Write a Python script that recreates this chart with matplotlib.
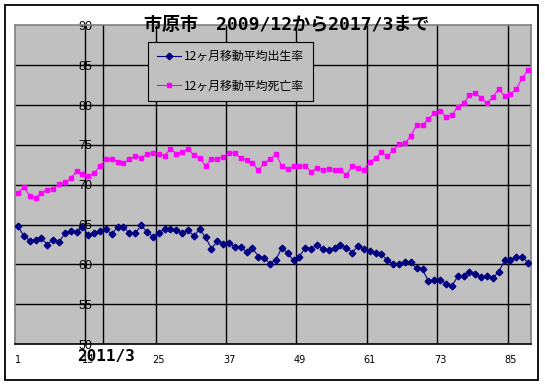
import matplotlib
matplotlib.use('Agg')
import matplotlib.pyplot as plt
from matplotlib.patches import Rectangle
from matplotlib.transforms import blended_transform_factory

# ---------------- data ----------------
title = '市原市\u30002009/12から2017/3まで'
series_names = ['12ヶ月移動平均出生率', '12ヶ月移動平均死亡率']
birth = [64.8, 63.6, 63.0, 63.1, 63.3, 62.5, 63.1, 62.8, 63.9, 64.2,
         64.1, 64.7, 63.7, 63.9, 64.2, 64.4, 63.8, 64.7, 64.7, 63.9,
         63.9, 64.9, 64.1, 63.5, 64.0, 64.4, 64.5, 64.3, 63.9, 64.3,
         63.6, 64.4, 63.4, 62.0, 62.9, 62.6, 62.7, 62.2, 62.2, 61.6,
         62.1, 61.0, 60.8, 60.1, 60.6, 62.1, 61.4, 60.5, 61.0, 62.1,
         62.0, 62.4, 62.0, 61.8, 62.1, 62.5, 62.1, 61.5, 62.3, 62.0,
         61.7, 61.4, 61.3, 60.5, 60.0, 60.1, 60.3, 60.25, 59.5, 59.4,
         57.9, 58.0, 58.1, 57.6, 57.3, 58.5, 58.6, 59.1, 58.8, 58.4,
         58.5, 58.3, 59.1, 60.5, 60.6, 60.9, 61.0, 60.2]
death = [69.0, 69.7, 68.6, 68.4, 69.0, 69.4, 69.5, 70.1, 70.3, 70.8,
         71.7, 71.4, 71.1, 71.5, 72.3, 73.2, 73.2, 72.9, 72.7, 73.2,
         73.6, 73.4, 73.8, 74.0, 73.9, 73.6, 74.5, 73.9, 74.1, 74.5,
         73.7, 73.3, 72.4, 73.2, 73.2, 73.5, 74.0, 74.0, 73.3, 73.1,
         72.7, 71.8, 72.7, 73.2, 73.8, 72.4, 72.0, 72.3, 72.3, 72.4,
         71.6, 72.1, 71.9, 72.0, 71.8, 71.8, 71.2, 72.3, 72.1, 71.9,
         72.9, 73.3, 74.1, 73.6, 74.3, 75.1, 75.2, 76.1, 77.5, 77.5,
         78.2, 79.0, 79.3, 78.5, 78.7, 79.8, 80.2, 81.2, 81.5, 80.9,
         80.2, 81.0, 82.0, 81.1, 81.4, 82.0, 83.4, 84.4]
xtick_labels = ['1', '13', '25', '37', '49', '61', '73', '85']
ytick_values = [50, 55, 60, 65, 70, 75, 80, 85, 90]
mark_category = 16
mark_label = '2011/3'

# ---------------- figure ----------------
W, H = 545, 385
fig = plt.figure(figsize=(W / 100, H / 100), dpi=100)
fig.patch.set_facecolor('white')

L, R, T, B = 15, 531, 25.3, 344.2
ax = fig.add_axes([L / W, (H - B) / H, (R - L) / W, (B - T) / H])
ax.set_facecolor('#C0C0C0')

cats = list(range(1, len(birth) + 1))
ax.set_xlim(0.5, len(cats) + 0.5)
ax.set_ylim(ytick_values[0], ytick_values[-1])

# gridlines
for v in ytick_values[1:-1]:
    ax.axhline(v, color='black', lw=1.0, zorder=1)
xpos = [int(s) for s in xtick_labels]
for c in xpos[2:]:
    ax.axvline(c - 0.5, color='black', lw=1.0, zorder=1)
ax.axvline(mark_category - 0.5, color='black', lw=1.0, zorder=1)
ax.axvline(0.5, color='#808080', lw=1.2, zorder=1, clip_on=False)

# series
ax.plot(cats, birth, color='#000080', lw=0.8, marker='D', ms=3.4,
        mfc='#000080', mec='#000080', label=series_names[0], zorder=3)
ax.plot(cats, death, color='#FF00FF', lw=0.8, marker='s', ms=3.4,
        mfc='#FF00FF', mec='#FF00FF', label=series_names[1], zorder=3)

# spines
ax.spines['left'].set_position(('data', xpos[1] - 0.5))
ax.spines['left'].set_color('black')
ax.spines['left'].set_linewidth(1.0)
for s in ['top', 'right']:
    ax.spines[s].set_color('#808080')
    ax.spines[s].set_linewidth(1.2)
ax.spines['bottom'].set_color('black')
ax.spines['bottom'].set_linewidth(1.2)

# ticks
ax.set_yticks(ytick_values)
ax.set_yticklabels([str(v) for v in ytick_values])
ax.tick_params(axis='y', length=0, pad=0, labelsize=9)
for t in ax.get_yticklabels():
    t.set_horizontalalignment('center')
    t.set_fontfamily('Liberation Sans')
ax.set_xticks(xpos)
ax.set_xticklabels(xtick_labels)
ax.tick_params(axis='x', length=0, pad=8, labelsize=7)

# marker label
trans = blended_transform_factory(ax.transData, ax.transAxes)
ax.text(mark_category, (B - 357) / (B - T), mark_label, transform=trans,
        ha='center', va='center', fontsize=11.5, fontweight='bold',
        family=['DejaVu Sans Mono'], clip_on=False, zorder=5)

# legend
leg = ax.legend(loc='upper left',
                bbox_to_anchor=((148.3 - L) / (R - L), (B - 41.7) / (B - T)),
                borderaxespad=0, frameon=True, fancybox=False,
                edgecolor='black', facecolor='#C0C0C0', framealpha=1,
                prop={'family': 'Noto Sans CJK JP', 'size': 8.6},
                handlelength=2.0, handletextpad=0.3, borderpad=0.7,
                labelspacing=1.35)
leg.get_frame().set_linewidth(0.8)
leg.set_zorder(6)

# title
fig.text(286.5 / W, 1 - 24.5 / H, title, ha='center', va='center',
         fontsize=13, fontweight='bold',
         family=['DejaVu Sans Mono', 'Noto Sans CJK JP'], zorder=7)

# outer border
fig.add_artist(Rectangle((5 / W, 1 - 380 / H), (538 - 5) / W, (380 - 5) / H,
                         transform=fig.transFigure, fill=False,
                         edgecolor='black', lw=1.3))

fig.savefig('out.png', dpi=100)
